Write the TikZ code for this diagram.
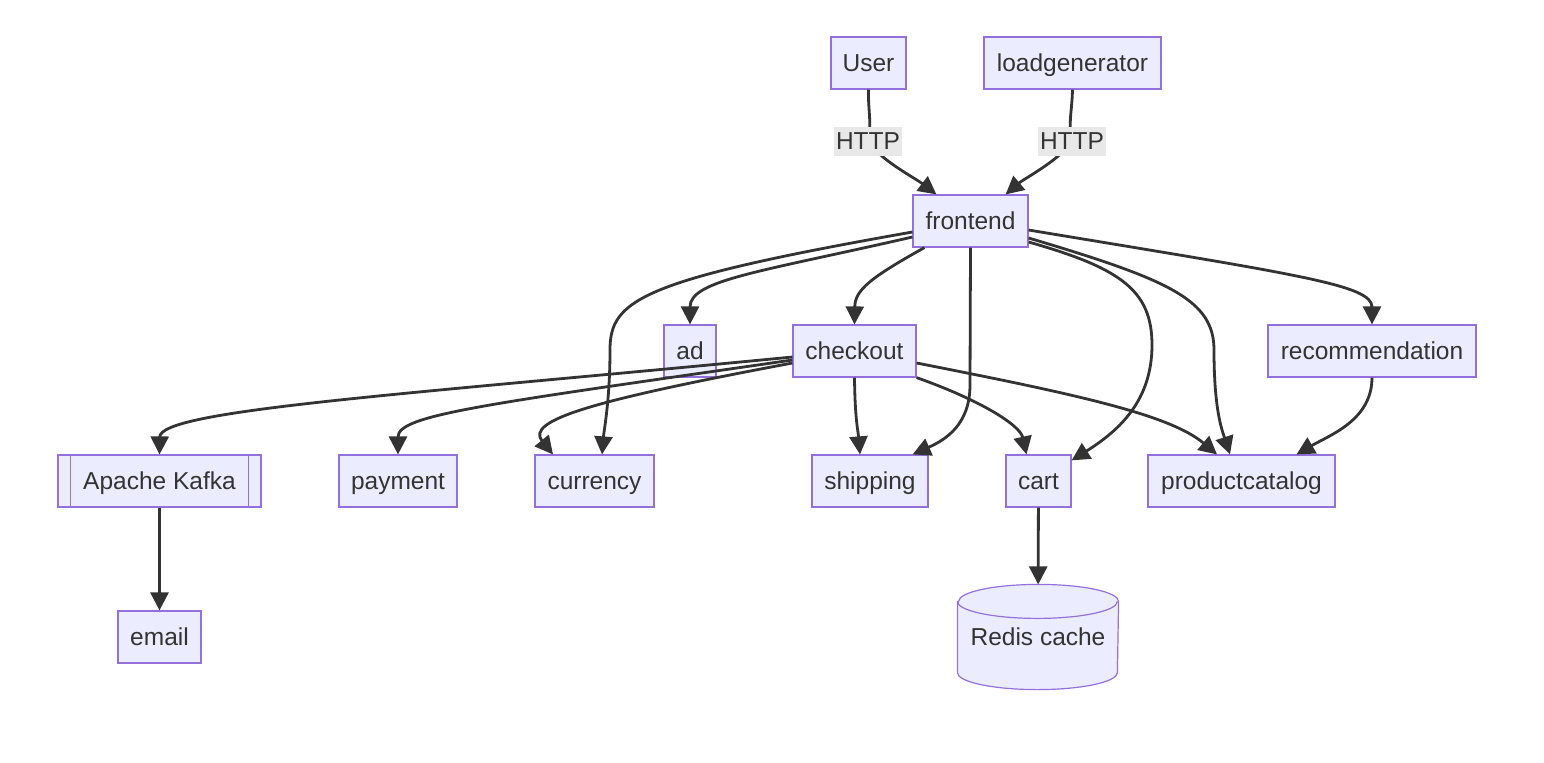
\documentclass[tikz,border=0pt]{standalone}
\usepackage{fontspec}
\setmainfont{Liberation Sans}
\usetikzlibrary{arrows.meta,positioning,backgrounds}
\definecolor{boxfill}{HTML}{ECECFF}
\definecolor{boxline}{HTML}{9370DB}
\definecolor{ink}{HTML}{333333}
\definecolor{lblfill}{HTML}{E8E8E8}

\begin{document}
\begin{tikzpicture}[x=0.5pt, y=-0.5pt,
  box/.style={draw=boxline, fill=boxfill, line width=0.6pt, text=ink,
    minimum height=26pt, inner sep=1pt, text height=11.3pt, text depth=2.6pt,
    font=\fontsize{12.25}{14}\selectfont},
  edge/.style={draw=ink, line width=1.4pt, -{Triangle[length=9pt,width=9pt]}},
  lbl/.style={fill=lblfill, text=ink, inner xsep=1pt, inner ysep=0.3pt,
    text height=11.3pt, text depth=2.6pt, font=\fontsize{12.25}{14}\selectfont}]
  \useasboundingbox (0,0) rectangle (1544,762);

  % services
  \node[box, minimum width=37.5pt] (user) at (868.5,63) {User};
  \node[box, minimum width=88.5pt] (load) at (1072.5,63) {loadgenerator};
  \node[box, minimum width=57.5pt] (frontend) at (970.5,221) {frontend};
  \node[box, minimum width=26pt] (ad) at (690,351) {ad};
  \node[box, minimum width=61.5pt] (checkout) at (854.5,351) {checkout};
  \node[box, minimum width=104pt] (recommendation) at (1372,351) {recommendation};
  \node[box, minimum width=101.5pt] (kafka) at (159.5,481) {Apache Kafka};
  \node[box, minimum width=59pt] (payment) at (398,481) {payment};
  \node[box, minimum width=59.5pt] (currency) at (594.5,481) {currency};
  \node[box, minimum width=58pt] (shipping) at (870,481) {shipping};
  \node[box, minimum width=32.5pt] (cart) at (1038.5,481) {cart};
  \node[box, minimum width=93.5pt] (productcatalog) at (1241.5,481) {productcatalog};
  \node[box, minimum width=41.5pt] (email) at (159.5,637) {email};
  \node[box, draw=none, fill=none, minimum width=80pt, minimum height=52pt] (redis) at (1038,637) {Redis cache};

  % subroutine sides of kafka
  \draw[boxline, line width=0.6pt] ([xshift=6.5pt]kafka.north west) -- ([xshift=6.5pt]kafka.south west);
  \draw[boxline, line width=0.6pt] ([xshift=-6.5pt]kafka.north east) -- ([xshift=-6.5pt]kafka.south east);

  % cylinder for the cache
  \begin{scope}[on background layer]
    \path[fill=boxfill, draw=boxline, line width=0.6pt]
      ([yshift=-8.5pt]redis.north west) -- ([yshift=8.5pt]redis.south west)
      arc[start angle=180, end angle=360, x radius=40pt, y radius=8.5pt]
      -- ([yshift=-8.5pt]redis.north east)
      arc[start angle=0, end angle=180, x radius=40pt, y radius=8.5pt] -- cycle;
    \draw[boxline, line width=0.6pt] ([yshift=-8.5pt]redis.north west)
      arc[start angle=180, end angle=360, x radius=40pt, y radius=8.5pt];
  \end{scope}

  % HTTP edges
  \coordinate (h1) at (868,141);
  \coordinate (h2) at (1072,141);
  \draw[edge] (user.south) .. controls (868,112) and (872,122) .. (h1)
    .. controls (880,160) and (915,178) .. ([xshift=12pt]frontend.north west);
  \draw[edge] (load.south) .. controls (1072,112) and (1068,122) .. (h2)
    .. controls (1060,160) and (1025,178) .. ([xshift=-11.5pt]frontend.north east);
  \node[lbl] (http1) at (h1) {HTTP};
  \node[lbl] (http2) at (h2) {HTTP};

  % from frontend
  \draw[edge] ([shift={(0,16)}]frontend.west) .. controls (760,272) and (690,280) .. (ad.north);
  \draw[edge] ([shift={(0,11)}]frontend.west) .. controls (640,280) and (610,300) .. (610,350)
    .. controls (610,400) and (604,430) .. ([shift={(7.5,0)}]currency.north);
  \draw[edge] ([shift={(12,0)}]frontend.south west) .. controls (870,278) and (855,290) .. (checkout.north);
  \draw[edge] (frontend.south) -- (970,385) .. controls (970,425) and (945,440) .. ([shift={(-16,0)}]shipping.north east);
  \draw[edge] ([shift={(0,21)}]frontend.east) .. controls (1120,268) and (1152,290) .. (1152,345)
    .. controls (1152,400) and (1120,430) .. ([shift={(0,6)}]cart.north east);
  \draw[edge] ([shift={(0,17)}]frontend.east) .. controls (1170,280) and (1214,300) .. (1214,350)
    .. controls (1214,410) and (1222,430) .. ([shift={(-11.5,0)}]productcatalog.north);
  \draw[edge] ([shift={(0,9)}]frontend.east) .. controls (1300,275) and (1372,285) .. (recommendation.north);

  % from checkout
  \draw[edge] ([shift={(0,6)}]checkout.west) .. controls (400,395) and (160,410) .. (kafka.north);
  \draw[edge] ([shift={(0,9)}]checkout.west) .. controls (480,405) and (398,415) .. (payment.north);
  \draw[edge] ([shift={(0,12)}]checkout.west) .. controls (595,400) and (525,420) .. ([shift={(-41.5,0)}]currency.north);
  \draw[edge] (checkout.south) .. controls (855,420) and (858,430) .. ([shift={(-10,0)}]shipping.north);
  \draw[edge] (checkout.south east) .. controls (980,400) and (1020,425) .. ([shift={(-12,0)}]cart.north);
  \draw[edge] ([shift={(0,12)}]checkout.east) .. controls (1080,395) and (1170,415) .. ([shift={(-24.5,0)}]productcatalog.north);

  % the rest
  \draw[edge] (recommendation.south) .. controls (1372,420) and (1330,435) .. ([shift={(55,0)}]productcatalog.north);
  \draw[edge] (kafka) -- (email);
  \draw[edge] (cart) -- (redis);
\end{tikzpicture}
\end{document}
